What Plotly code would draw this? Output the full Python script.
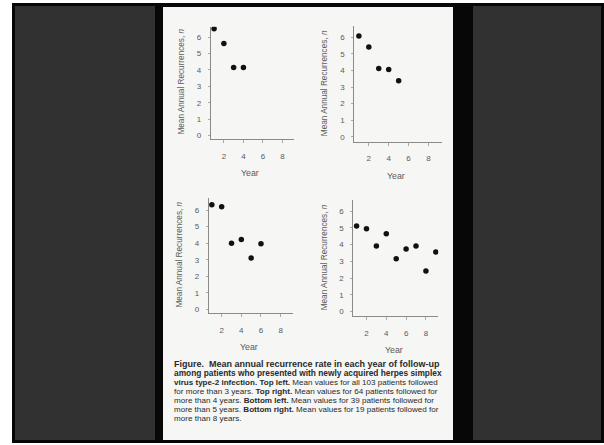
import plotly.graph_objects as go

W, H = 604, 445

# ---- data ----
years_tl = [1, 2, 3, 4]
rec_tl = [6.5, 5.6, 4.15, 4.15]
years_tr = [1, 2, 3, 4, 5]
rec_tr = [6.08, 5.42, 4.11, 4.05, 3.38]
years_bl = [1, 2, 3, 4, 5, 6]
rec_bl = [6.32, 6.2, 4.0, 4.22, 3.1, 3.97]
years_br = [1, 2, 3, 4, 5, 6, 7, 8, 9]
rec_br = [5.11, 4.95, 3.92, 4.65, 3.15, 3.74, 3.92, 2.43, 3.56]
x_ticks = [2, 4, 6, 8]
y_ticks = [0, 1, 2, 3, 4, 5, 6]
y_title = "Mean Annual Recurrences, <i>n</i>"
x_title = "Year"
caption_lines = [
    "<b>Figure.  Mean annual recurrence rate in each year of follow-up</b>",
    "<b>among patients who presented with newly acquired herpes simplex</b>",
    "<b>virus type-2 infection. Top left.</b> Mean values for all 103 patients followed",
    "for more than 3 years. <b>Top right.</b> Mean values for 64 patients followed for",
    "more than 4 years. <b>Bottom left.</b> Mean values for 39 patients followed for",
    "more than 5 years. <b>Bottom right.</b> Mean values for 19 patients followed for",
    "more than 8 years.",
]
caption_sizes = [9.0, 8.35, 8.05, 8.1, 8.1, 8.05, 8.1]

FONT = "Liberation Sans, Arial, sans-serif"

def px(x):
    return x / W

def py(y):
    return 1 - y / H

# panels: (data, pixel box left, right, top, bottom, xrange, yrange)
panels = [
    (years_tl, rec_tl, 210.7, 294.0, 26.7, 139.0, [0.654, 9.17], [-0.21, 6.63]),
    (years_tr, rec_tr, 354.3, 441.7, 26.0, 141.7, [0.54, 9.33], [-0.30, 6.68]),
    (years_bl, rec_bl, 208.7, 293.3, 198.3, 313.3, [0.68, 9.29], [-0.24, 6.71]),
    (years_br, rec_br, 353.3, 438.3, 200.0, 316.0, [0.67, 9.25], [-0.26, 6.66]),
]

fig = go.Figure()
layout = dict(
    width=W, height=H,
    margin=dict(l=0, r=0, t=0, b=0),
    paper_bgcolor="white",
    plot_bgcolor="rgba(0,0,0,0)",
    showlegend=False,
    font=dict(family=FONT, color="#555"),
)

annotations = []
for i, (xs, ys, l, r, t, b, xr, yr) in enumerate(panels):
    n = "" if i == 0 else str(i + 1)
    fig.add_trace(go.Scatter(
        x=xs, y=ys, mode="markers",
        marker=dict(color="#111", size=5.5),
        xaxis="x" + n, yaxis="y" + n, hoverinfo="skip",
    ))
    layout["xaxis" + n] = dict(
        domain=[px(l), px(r)], range=xr, anchor="y" + n,
        tickvals=x_ticks, showline=True, linecolor="#8a8a8a", linewidth=1,
        ticks="outside", ticklen=3, tickcolor="#aaa", tickwidth=1,
        ticklabelstandoff=6, showgrid=False, zeroline=False,
        tickfont=dict(size=8, color="#5a5a5a", family=FONT),
    )
    layout["yaxis" + n] = dict(
        domain=[py(b), py(t)], range=yr, anchor="x" + n,
        tickvals=y_ticks, showline=True, linecolor="#8a8a8a", linewidth=1,
        ticks="outside", ticklen=2, tickcolor="#aaa", tickwidth=1,
        ticklabelstandoff=5, showgrid=False, zeroline=False,
        tickfont=dict(size=8, color="#5a5a5a", family=FONT),
    )
    # axis titles
    annotations.append(dict(
        text=x_title, x=px((l + r) / 2 - 2), y=py(b + 34),
        xref="paper", yref="paper", showarrow=False,
        xanchor="center", yanchor="middle",
        font=dict(size=8.8, color="#5a5a5a", family=FONT),
    ))
    annotations.append(dict(
        text=y_title, x=px(l - 29), y=py((t + b) / 2 - 1),
        xref="paper", yref="paper", showarrow=False, textangle=-90,
        xanchor="center", yanchor="middle",
        font=dict(size=8.2, color="#5a5a5a", family=FONT),
    ))

cap_y = [364, 373, 382, 391, 400, 409, 418]
for line, size, yy in zip(caption_lines, caption_sizes, cap_y):
    annotations.append(dict(
        text=line, x=px(172), y=py(yy), xref="paper", yref="paper",
        showarrow=False, xanchor="left", yanchor="middle", align="left",
        font=dict(size=size, color="#2a2a2a", family=FONT),
    ))

shapes = [
    # black frame
    dict(type="rect", xref="paper", yref="paper", x0=px(12), x1=px(604),
         y0=py(443), y1=py(3), fillcolor="#070707", line=dict(width=0), layer="below"),
    # dark textured panels
    dict(type="rect", xref="paper", yref="paper", x0=px(15), x1=px(155),
         y0=py(440), y1=py(6), fillcolor="#313131", line=dict(width=0), layer="below"),
    dict(type="rect", xref="paper", yref="paper", x0=px(473), x1=px(601),
         y0=py(440), y1=py(6), fillcolor="#313131", line=dict(width=0), layer="below"),
    # white card
    dict(type="rect", xref="paper", yref="paper", x0=px(163), x1=px(453),
         y0=py(440), y1=py(7), fillcolor="#f6f6f4", line=dict(width=0), layer="below"),
]

layout["annotations"] = annotations
layout["shapes"] = shapes
fig.update_layout(**layout)
fig.write_html(
    "out.html",
    config={"displayModeBar": False, "staticPlot": True},
    post_script="document.body.style.margin='0';document.body.style.overflow='hidden';",
)
